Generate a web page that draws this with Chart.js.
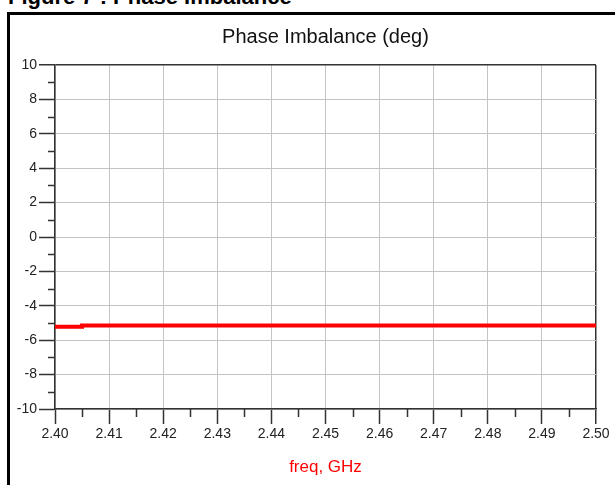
<!DOCTYPE html>
<html>
<head>
<meta charset="utf-8">
<script src="https://cdn.jsdelivr.net/npm/chart.js@4.4.1/dist/chart.umd.min.js"></script>
<style>
  body { margin: 0; background: #fff; font-family: "Liberation Sans", Arial, sans-serif; overflow: hidden; }
  #heading { position: absolute; left: 8px; top: -14px; font-size: 22px; line-height: 22px; font-weight: bold; color: #000; white-space: nowrap; }
  #box { position: absolute; left: 7px; top: 12px; width: 640px; height: 520px; border: 3px solid #000; }
  #wrap { position: absolute; left: 0; top: 0; width: 615px; height: 485px; }
</style>
</head>
<body>
<div id="heading">Figure 7 : Phase Imbalance</div>
<div id="box"></div>
<div id="wrap"><canvas id="phaseChart" width="615" height="485"></canvas></div>
<script>
const chartTitle = "Phase Imbalance (deg)";
const xTitle = "freq, GHz";
// freq in GHz, phase imbalance in deg
const freq = [2.40, 2.405, 2.455, 2.50];
const phaseImb = [-5.29, -5.22, -5.14, -5.14];

const frameColor = "#333";
const gridColor = "#c4c4c4";
const fontFamily = "'Liberation Sans', Arial, sans-serif";

// title above the plot, centred on the plot area
const topTitle = {
    id: "topTitle",
    afterDraw(chart) {
        const { ctx, chartArea } = chart;
        ctx.save();
        ctx.font = "20px " + fontFamily;
        ctx.fillStyle = "#111";
        ctx.textAlign = "center";
        ctx.textBaseline = "alphabetic";
        ctx.fillText(chartTitle, (chartArea.left + chartArea.right) / 2, 43);
        ctx.restore();
    }
};

// short minor ticks half way between the major ones
const minorTicks = {
    id: "minorTicks",
    afterDraw(chart) {
        const { ctx, scales } = chart;
        const xs = scales.x, ys = scales.y;
        ctx.save();
        ctx.strokeStyle = frameColor;
        ctx.lineWidth = 1.5;
        ctx.beginPath();
        for (let i = 0; i < xs.ticks.length - 1; i++) {
            const v = (xs.ticks[i].value + xs.ticks[i + 1].value) / 2;
            const px = Math.round(xs.getPixelForValue(v)) + 0.5;
            ctx.moveTo(px, xs.top);
            ctx.lineTo(px, xs.top + 8);
        }
        for (let i = 0; i < ys.ticks.length - 1; i++) {
            const v = (ys.ticks[i].value + ys.ticks[i + 1].value) / 2;
            const py = Math.round(ys.getPixelForValue(v)) + 0.5;
            ctx.moveTo(ys.right, py);
            ctx.lineTo(ys.right - 7, py);
        }
        ctx.stroke();
        ctx.restore();
    }
};

new Chart(document.getElementById("phaseChart"), {
    type: "line",
    data: {
        datasets: [{
            data: freq.map((f, i) => ({ x: f, y: phaseImb[i] })),
            borderColor: "#ff0000",
            borderWidth: 4,
            pointRadius: 0,
            stepped: "after",
            fill: false
        }]
    },
    options: {
        responsive: false,
        animation: false,
        layout: { padding: { top: 65, right: 19, left: 0, bottom: 0 } },
        plugins: {
            legend: { display: false },
            tooltip: { enabled: false }
        },
        scales: {
            x: {
                type: "linear",
                min: 2.40,
                max: 2.50,
                afterFit(scale) { scale.height = 76; },
                ticks: {
                    stepSize: 0.01,
                    color: "#222",
                    padding: 2,
                    maxRotation: 0,
                    font: { size: 14, family: fontFamily },
                    callback: v => v.toFixed(2)
                },
                grid: {
                    color: c => (c.tick && Math.abs(c.tick.value - 2.5) < 1e-6) ? frameColor : gridColor,
                    lineWidth: c => (c.tick && Math.abs(c.tick.value - 2.5) < 1e-6) ? 1.5 : 1,
                    tickColor: frameColor,
                    tickLength: 15,
                    tickWidth: 1.5
                },
                border: { display: true, color: frameColor, width: 1.5 },
                title: {
                    display: true,
                    text: xTitle,
                    color: "#ff0000",
                    font: { size: 17, family: fontFamily },
                    padding: { top: 0, bottom: 7.8 }
                }
            },
            y: {
                min: -10,
                max: 10,
                afterFit(scale) { scale.width = 55; },
                ticks: {
                    stepSize: 2,
                    color: "#222",
                    padding: 2,
                    font: { size: 14, family: fontFamily }
                },
                grid: {
                    color: c => (c.tick && c.tick.value === 10) ? frameColor : gridColor,
                    lineWidth: c => (c.tick && c.tick.value === 10) ? 1.5 : 1,
                    tickColor: frameColor,
                    tickLength: 16,
                    tickWidth: 1.5
                },
                border: { display: true, color: frameColor, width: 1.5 }
            }
        }
    },
    plugins: [topTitle, minorTicks]
});
</script>
</body>
</html>
